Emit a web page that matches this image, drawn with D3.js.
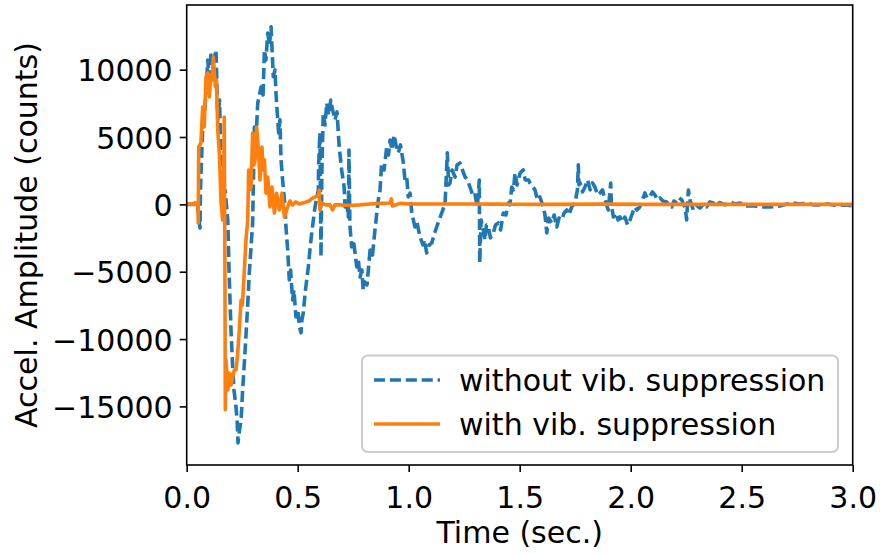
<!DOCTYPE html>
<html>
<head>
<meta charset="utf-8">
<script src="https://cdn.jsdelivr.net/npm/d3@7"></script>
<style>
  html, body { margin: 0; padding: 0; background: #fff; }
  svg { display: block; font-family: "DejaVu Sans", sans-serif; }
</style>
</head>
<body>
<svg id="chart" width="880" height="554"></svg>
<script>
// ---- data (time in sec., amplitude in counts) ----
const withoutSuppression = [[0,0],[0.037,0],[0.046,330],[0.053,-790],[0.060,-1750],[0.062,1070],[0.072,5770],[0.082,7010],[0.095,10720],[0.103,8860],[0.109,11090],[0.121,10570],[0.132,11460],[0.140,6270],[0.148,7750],[0.155,2550],[0.164,330],[0.173,1070],[0.185,-1160],[0.191,-5090],[0.200,-9540],[0.207,-12070],[0.213,-13780],[0.222,-15040],[0.227,-16010],[0.231,-17710],[0.238,-16750],[0.245,-16010],[0.252,-13780],[0.264,-10590],[0.276,-7100],[0.282,-5090],[0.297,-1380],[0.305,5740],[0.312,4780],[0.320,7520],[0.335,8710],[0.344,8120],[0.350,11460],[0.357,10720],[0.365,12720],[0.373,11830],[0.380,13190],[0.390,9480],[0.398,9980],[0.402,8270],[0.414,5300],[0.420,6270],[0.425,3300],[0.432,1810],[0.443,-190],[0.447,-1680],[0.455,-3390],[0.462,-5610],[0.468,-4870],[0.477,-7100],[0.483,-6350],[0.492,-8360],[0.501,-7840],[0.508,-9100],[0.515,-9540],[0.519,-8580],[0.525,-8060],[0.535,-6350],[0.548,-4640],[0.555,-3390],[0.563,-2130],[0.578,-190],[0.593,1070],[0.594,2780],[0.600,5300],[0.605,-3900],[0.609,2540],[0.615,6780],[0.623,5890],[0.631,7520],[0.639,6630],[0.649,7750],[0.657,7010],[0.668,6270],[0.677,6860],[0.687,4260],[0.698,2550],[0.709,1290],[0.713,-190],[0.720,330],[0.728,-940],[0.731,4040],[0.735,-1530],[0.743,-3160],[0.751,-2640],[0.766,-4640],[0.773,-4130],[0.781,-5390],[0.789,-4870],[0.795,-6350],[0.803,-5760],[0.812,-5980],[0.826,-3390],[0.837,-3760],[0.848,-1900],[0.863,330],[0.871,1070],[0.878,3070],[0.889,2550],[0.901,4260],[0.909,3670],[0.916,4780],[0.925,4040],[0.934,5150],[0.943,4410],[0.953,3820],[0.963,4410],[0.976,3070],[0.983,1810],[0.991,2030],[0.998,550],[1.006,830],[1.014,-640],[1.028,-1680],[1.037,-1310],[1.051,-2420],[1.064,-3010],[1.071,-2640],[1.081,-3610],[1.092,-3010],[1.104,-2870],[1.114,-2270],[1.126,-1680],[1.137,-1160],[1.149,-640],[1.164,100],[1.174,3820],[1.180,1440],[1.186,1590],[1.195,2550],[1.209,2030],[1.218,2930],[1.231,3070],[1.242,2550],[1.254,2030],[1.265,1810],[1.276,1290],[1.291,550],[1.299,700],[1.309,-190],[1.318,1810],[1.320,-4350],[1.326,-1160],[1.336,-1900],[1.344,-2640],[1.350,-1530],[1.359,-1680],[1.368,-2490],[1.381,-2130],[1.391,-1530],[1.404,-1380],[1.414,-1900],[1.426,-640],[1.438,-790],[1.449,100],[1.456,-40],[1.464,1290],[1.472,1070],[1.479,2330],[1.488,1440],[1.502,2330],[1.516,2560],[1.525,1810],[1.540,1810],[1.546,1590],[1.560,1290],[1.569,1070],[1.580,330],[1.591,550],[1.606,-190],[1.614,-790],[1.622,-2120],[1.630,-1010],[1.644,-1380],[1.655,-790],[1.667,-1680],[1.677,-1010],[1.689,-1160],[1.700,-640],[1.712,-420],[1.722,-790],[1.734,-190],[1.749,100],[1.760,1070],[1.764,2930],[1.767,1440],[1.772,1590],[1.783,920],[1.794,1290],[1.806,1810],[1.817,1070],[1.828,1590],[1.839,1290],[1.851,700],[1.862,850],[1.873,1070],[1.884,330],[1.899,-420],[1.910,1590],[1.913,-40],[1.922,-940],[1.934,-640],[1.943,-1160],[1.952,-940],[1.963,-1310],[1.974,-940],[1.986,-1530],[1.997,-1160],[2.008,-640],[2.019,-190],[2.028,-420],[2.041,-190],[2.053,330],[2.064,850],[2.073,480],[2.086,550],[2.098,920],[2.109,700],[2.121,330],[2.132,480],[2.145,250],[2.162,180],[2.172,-40],[2.185,-190],[2.195,250],[2.207,100],[2.218,480],[2.230,330],[2.239,-40],[2.245,-190],[2.252,-1160],[2.256,100],[2.260,1070],[2.267,330],[2.282,-420],[2.294,-40],[2.312,-270],[2.330,30],[2.342,-190],[2.356,180],[2.372,100],[2.384,-120],[2.401,130],[2.425,-40],[2.447,180],[2.470,30],[2.492,100],[2.523,-120],[2.552,-100],[2.582,-190],[2.627,-190],[2.672,-120],[2.704,30],[2.732,100],[2.762,30],[2.793,100],[2.821,-40],[2.853,-40],[2.889,30],[2.928,-100],[2.965,-40],[3.000,-120]];

const withSuppression = [[0,0],[0.050,100],[0.052,-1380],[0.054,4260],[0.064,4560],[0.072,7230],[0.079,5740],[0.087,9460],[0.095,9760],[0.102,7970],[0.109,9610],[0.114,9240],[0.120,10940],[0.129,8720],[0.134,9240],[0.140,5520],[0.147,3820],[0.155,100],[0.162,-1160],[0.166,330],[0.169,6490],[0.172,-4130],[0.174,-15250],[0.177,-11560],[0.185,-13780],[0.192,-12520],[0.200,-13410],[0.207,-12810],[0.215,-12290],[0.222,-12290],[0.229,-11180],[0.237,-9320],[0.245,-7100],[0.251,-7470],[0.259,-5090],[0.267,-2640],[0.275,-1160],[0.279,2550],[0.285,1070],[0.290,1290],[0.297,5300],[0.303,2920],[0.308,3300],[0.315,5740],[0.324,3820],[0.330,1810],[0.339,4260],[0.344,2550],[0.350,3300],[0.357,830],[0.365,2030],[0.375,-190],[0.384,1290],[0.395,-640],[0.405,830],[0.417,-420],[0.429,830],[0.440,-940],[0.455,-190],[0.465,250],[0.477,-40],[0.492,180],[0.507,30],[0.530,130],[0.551,250],[0.569,480],[0.582,570],[0.594,700],[0.597,1070],[0.600,-420],[0.609,100],[0.627,-40],[0.645,-40],[0.657,-420],[0.668,-40],[0.690,-40],[0.736,-80],[0.781,-40],[0.826,30],[0.871,70],[0.916,100],[0.922,400],[0.927,-120],[0.961,70],[1.006,30],[1.096,30],[1.231,30],[1.411,15],[1.637,0],[1.862,15],[2.086,0],[2.312,0],[2.582,0],[3.0,0]];

const seriesNames = ["without vib. suppression", "with vib. suppression"];
const xTicks = [0.0, 0.5, 1.0, 1.5, 2.0, 2.5, 3.0];
const yTicks = [-15000, -10000, -5000, 0, 5000, 10000];
const xDomain = [0, 3.0];
const yDomain = [-19350, 14800];

(function () {
  // ---- layout ----
  const svg = d3.select("#chart");
  const pl = 186.7, pr = 852.7, pt = 5, pb = 465;
  const FS = 30;
  const LW = 3.6;
  const blue = "#1f77b4", orange = "#ff7f0e";

  const x = d3.scaleLinear().domain(xDomain).range([pl, pr]);
  const y = d3.scaleLinear().domain(yDomain).range([pb, pt]);

  svg.append("defs").append("clipPath").attr("id", "clip")
    .append("rect").attr("x", pl).attr("y", pt)
    .attr("width", pr - pl).attr("height", pb - pt);

  const line = d3.line().x(d => x(d[0])).y(d => y(d[1]));

  const plot = svg.append("g").attr("clip-path", "url(#clip)");
  plot.append("path").datum(withoutSuppression)
    .attr("d", line).attr("fill", "none")
    .attr("stroke", blue).attr("stroke-width", LW)
    .attr("stroke-dasharray", "11.1,4.8")
    .attr("stroke-linejoin", "round");
  plot.append("path").datum(withSuppression)
    .attr("d", line).attr("fill", "none")
    .attr("stroke", orange).attr("stroke-width", LW)
    .attr("stroke-linejoin", "round");

  // ---- axes ----
  const fmtY = d => d < 0 ? "\u2212" + Math.abs(d) : String(d);
  const xAxis = d3.axisBottom(x).tickValues(xTicks).tickFormat(d3.format(".1f"))
    .tickSize(7).tickPadding(7);
  const yAxis = d3.axisLeft(y).tickValues(yTicks).tickFormat(fmtY)
    .tickSize(7).tickPadding(7);

  const gx = svg.append("g").attr("transform", `translate(0,${pb})`).call(xAxis);
  const gy = svg.append("g").attr("transform", `translate(${pl},0)`).call(yAxis);
  [gx, gy].forEach(g => {
    g.select(".domain").remove();
    g.selectAll(".tick line").attr("stroke", "#000").attr("stroke-width", 1.6);
    g.selectAll(".tick text").attr("fill", "#000")
      .style("font-family", "DejaVu Sans").style("font-size", FS + "px");
  });
  gx.selectAll(".tick text").attr("dy", "0.95em");
  gy.selectAll(".tick text").attr("dy", "0.37em");

  // frame
  svg.append("rect").attr("x", pl).attr("y", pt)
    .attr("width", pr - pl).attr("height", pb - pt)
    .attr("fill", "none").attr("stroke", "#000").attr("stroke-width", 1.6);

  // axis labels
  svg.append("text").attr("x", (pl + pr) / 2).attr("y", 543)
    .attr("text-anchor", "middle").style("font-size", FS + "px")
    .text("Time (sec.)");
  svg.append("text")
    .attr("transform", `translate(37,${(pt + pb) / 2}) rotate(-90)`)
    .attr("text-anchor", "middle").style("font-size", FS + "px")
    .text("Accel. Amplitude (counts)");

  // ---- legend ----
  const lg = svg.append("g");
  lg.append("rect").attr("x", 362).attr("y", 355.5).attr("width", 476).attr("height", 96.5)
    .attr("rx", 6).attr("fill", "#fff").attr("fill-opacity", 0.8)
    .attr("stroke", "#cccccc").attr("stroke-width", 2);
  const legendRows = [
    { name: seriesNames[0], color: blue, dash: "11.1,4.8", cy: 380 },
    { name: seriesNames[1], color: orange, dash: null, cy: 424 }
  ];
  legendRows.forEach(r => {
    lg.append("line").attr("x1", 374).attr("x2", 440).attr("y1", r.cy).attr("y2", r.cy)
      .attr("stroke", r.color).attr("stroke-width", LW)
      .attr("stroke-dasharray", r.dash);
    lg.append("text").attr("x", 459).attr("y", r.cy).attr("dy", "0.37em")
      .style("font-size", FS + "px").text(r.name);
  });
})();
</script>
</body>
</html>
